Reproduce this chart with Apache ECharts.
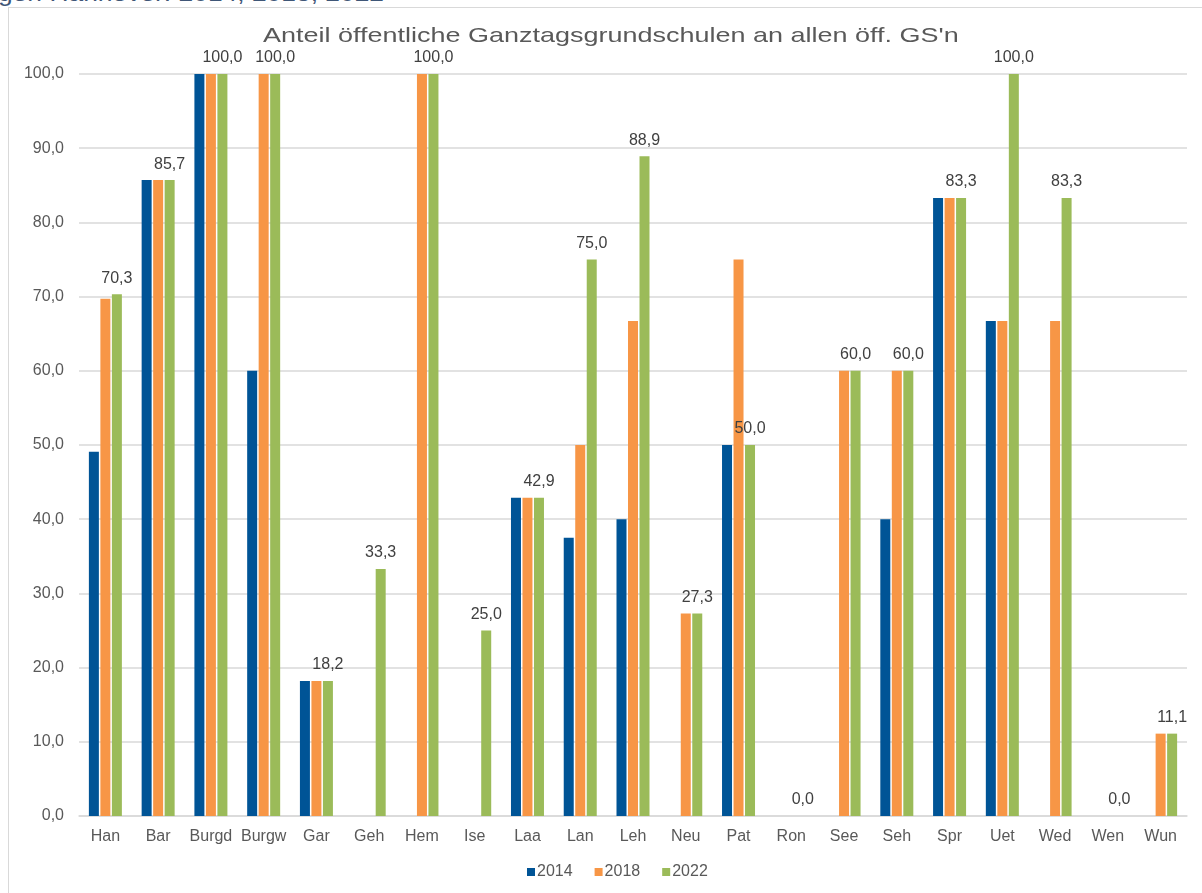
<!DOCTYPE html>
<html>
<head>
<meta charset="utf-8">
<script src="https://cdn.jsdelivr.net/npm/echarts@6/dist/echarts.min.js"></script>
<style>
    html, body {
        margin: 0;
        padding: 0;
        width: 1202px;
        height: 893px;
        overflow: hidden;
        background: #fff;
    }
    .header {
        position: absolute;
        left: -2px;
        top: -19px;
        font-family: "Liberation Sans", Arial, sans-serif;
        font-size: 22px;
        color: #3f5677;
        white-space: nowrap;
        transform: scaleX(1.2);
        transform-origin: left top;
    }
    .frame {
        position: absolute;
        left: 8px;
        top: 7px;
        width: 1300px;
        height: 1000px;
        border: 1px solid #d9d9d9;
    }
    #chart {
        position: absolute;
        left: 0;
        top: 0;
        width: 1202px;
        height: 893px;
    }
</style>
</head>
<body>
<div class="header">gen Hannover: 2014, 2018, 2022</div>
<div class="frame"></div>
<div id="chart"></div>
<script>
// Kommunen (abgekürzt)
const categories = ['Han', 'Bar', 'Burgd', 'Burgw', 'Gar', 'Geh', 'Hem', 'Ise', 'Laa', 'Lan', 'Leh',
    'Neu', 'Pat', 'Ron', 'See', 'Seh', 'Spr', 'Uet', 'Wed', 'Wen', 'Wun']
// Anteil in %, null = kein Balken
const values2014 = [49.1, 85.7, 100, 60, 18.2, null, null, null, 42.9, 37.5, 40,
    null, 50, null, null, 40, 83.3, 66.7, null, null, null]
const values2018 = [69.7, 85.7, 100, 100, 18.2, null, 100, null, 42.9, 50, 66.7,
    27.3, 75, null, 60, 60, 83.3, 66.7, 66.7, null, 11.1]
const values2022 = [70.3, 85.7, 100, 100, 18.2, 33.3, 100, 25, 42.9, 75, 88.9,
    27.3, 50, 0, 60, 60, 83.3, 100, 83.3, 0, 11.1]

const fmt = v => v.toFixed(1).replace('.', ',')
const font = '"Liberation Sans", Arial, sans-serif'

const bar = (name, data, color, withLabel) => ({
    name: name,
    type: 'bar',
    data: data,
    barWidth: 10,
    barGap: '15%',
    itemStyle: { color: color },
    label: {
        show: withLabel,
        position: 'top',
        distance: 8,
        fontFamily: font,
        fontSize: 16,
        color: '#404040',
        formatter: p => fmt(p.value)
    }
})

const chart = echarts.init(document.getElementById('chart'))
chart.setOption({
    animation: false,
    textStyle: { fontFamily: font },
    // Titel ist im Original breit gezogen -> scaleX
    graphic: [{
        type: 'text',
        left: 263,
        top: 26,
        scaleX: 1.285,
        style: {
            text: "Anteil öffentliche Ganztagsgrundschulen an allen öff. GS'n",
            fontFamily: font,
            fontSize: 21,
            fill: '#595959'
        }
    }],
    grid: {
        left: 79,
        right: 15,
        top: 74,
        bottom: 77
    },
    legend: {
        bottom: 8,
        left: 522,
        itemWidth: 8,
        itemHeight: 8,
        itemGap: 22,
        icon: 'rect',
        textStyle: {
            fontFamily: font,
            fontSize: 16,
            color: '#595959',
            padding: [0, 0, 0, -3]
        }
    },
    xAxis: {
        type: 'category',
        data: categories,
        axisLine: { lineStyle: { color: '#d9d9d9', width: 1.5 } },
        axisTick: { show: false },
        axisLabel: {
            interval: 0,
            margin: 13,
            fontFamily: font,
            fontSize: 16,
            color: '#595959'
        }
    },
    yAxis: {
        type: 'value',
        min: 0,
        max: 100,
        interval: 10,
        axisLine: { show: false },
        axisTick: { show: false },
        axisLabel: {
            margin: 15,
            fontFamily: font,
            fontSize: 16,
            color: '#595959',
            formatter: fmt
        },
        splitLine: { lineStyle: { color: '#d9d9d9', width: 1.5 } }
    },
    series: [
        bar('2014', values2014, '#005496', false),
        bar('2018', values2018, '#f79646', false),
        bar('2022', values2022, '#9bbb59', true)
    ]
})
</script>
</body>
</html>
